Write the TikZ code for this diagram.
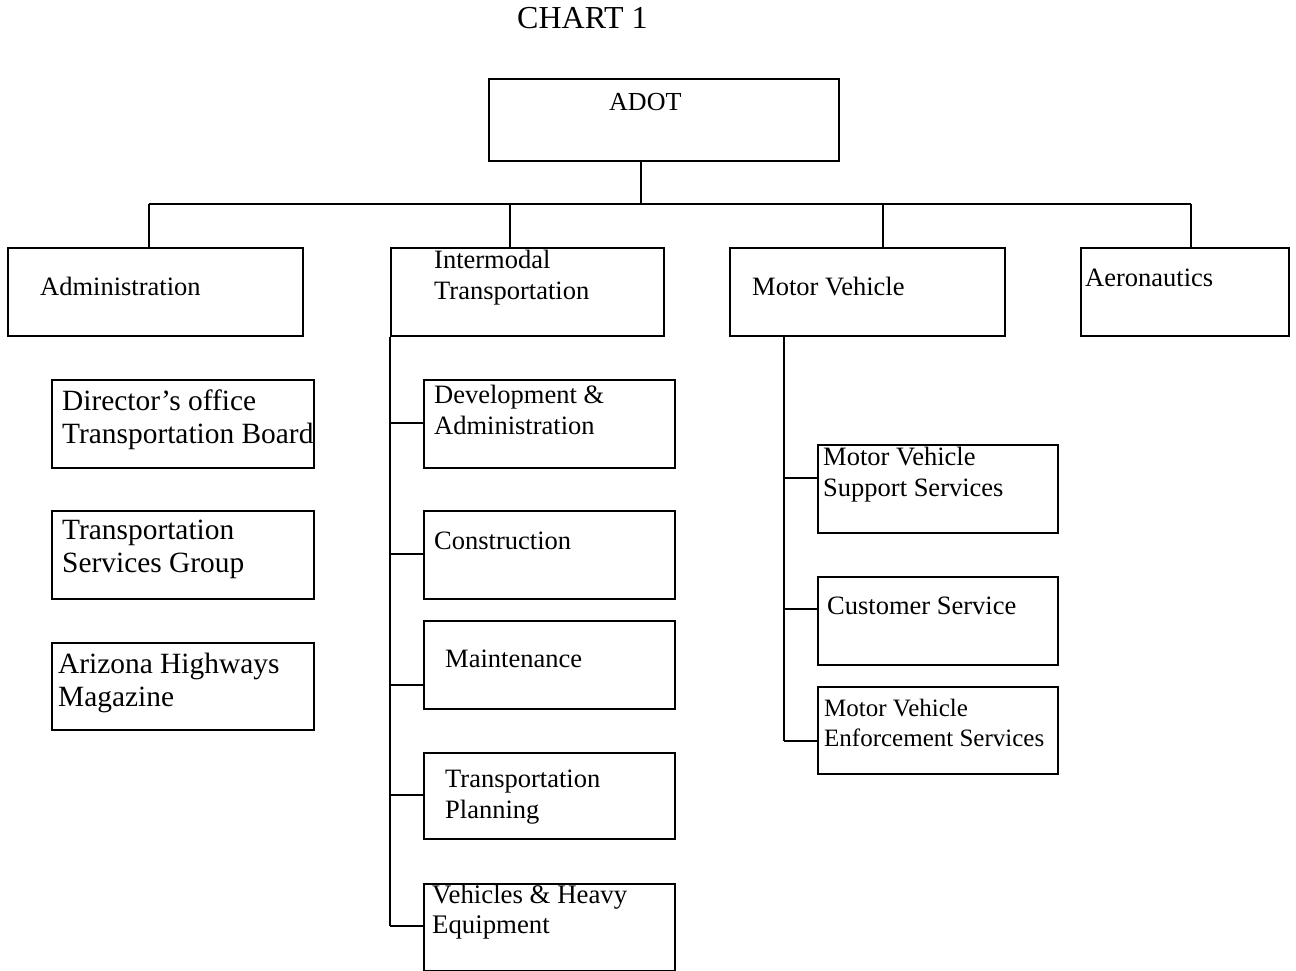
\documentclass[tikz,border=0pt]{standalone}
\usepackage{fontspec}
\setmainfont{Liberation Serif}
\newcommand{\twol}[1]{\begin{tabular}[t]{@{}l@{}}#1\end{tabular}}
\tikzset{
  orgbox/.style={draw, line width=1.6pt, inner sep=0pt, anchor=north west},
  conn/.style={line width=1.6pt},
  txt/.style={anchor=base west, inner sep=0pt, font=\fontsize{26.5}{31}\selectfont},
  bigtxt/.style={anchor=base west, inner sep=0pt, font=\fontsize{29.4}{33.5}\selectfont},
}
\begin{document}
\begin{tikzpicture}[x=1pt, y=-1pt]
\useasboundingbox (0,0) rectangle (1296,971);
% boxes
\node[orgbox, minimum width=350pt, minimum height=82pt] (adot) at (488,78) {};
\node[orgbox, minimum width=295pt, minimum height=88pt] (admin) at (7,247) {};
\node[orgbox, minimum width=273pt, minimum height=88pt] (inter) at (390,247) {};
\node[orgbox, minimum width=275pt, minimum height=88pt] (mv) at (729,247) {};
\node[orgbox, minimum width=208pt, minimum height=88pt] (aero) at (1080,247) {};
\node[orgbox, minimum width=262pt, minimum height=88pt] (dir) at (51,379) {};
\node[orgbox, minimum width=262pt, minimum height=88pt] (tsg) at (51,510) {};
\node[orgbox, minimum width=262pt, minimum height=87pt] (ahm) at (51,642) {};
\node[orgbox, minimum width=251pt, minimum height=88pt] (dev) at (423,379) {};
\node[orgbox, minimum width=251pt, minimum height=88pt] (cons) at (423,510) {};
\node[orgbox, minimum width=251pt, minimum height=88pt] (maint) at (423,620) {};
\node[orgbox, minimum width=251pt, minimum height=86pt] (tp) at (423,752) {};
\node[orgbox, minimum width=251pt, minimum height=87pt] (vhe) at (423,883) {};
\node[orgbox, minimum width=240pt, minimum height=88pt] (mvss) at (817,444) {};
\node[orgbox, minimum width=240pt, minimum height=88pt] (cs) at (817,576) {};
\node[orgbox, minimum width=240pt, minimum height=87pt] (mves) at (817,686) {};
% texts
\node[anchor=base west, inner sep=0pt, font=\fontsize{32}{36}\selectfont] (title) at (517,29) {CHART 1};
\node[txt, font=\fontsize{26}{31}\selectfont] (tadot) at (609,111) {ADOT};
\node[txt] (tadmin) at (40,295) {Administration};
\node[txt] (tinter) at (434,268) {\twol{Intermodal\\Transportation}};
\node[txt] (tmv) at (752,295) {Motor Vehicle};
\node[txt] (taero) at (1085,286) {Aeronautics};
\node[bigtxt] (tdir) at (62,410) {\twol{Director’s office\\Transportation Board}};
\node[bigtxt] (ttsg) at (62,539) {\twol{Transportation\\Services Group}};
\node[bigtxt] (tahm) at (58,673) {\twol{Arizona Highways\\Magazine}};
\node[txt] (tdev) at (434,403) {\twol{Development \&\\Administration}};
\node[txt] (tcons) at (434,549) {Construction};
\node[txt] (tmaint) at (445,667) {Maintenance};
\node[txt] (ttp) at (445,787) {\twol{Transportation\\Planning}};
\node[txt, font=\fontsize{26.8}{30}\selectfont] (tvhe) at (432,903) {\twol{Vehicles \& Heavy\\Equipment}};
\node[txt] (tmvss) at (823,465) {\twol{Motor Vehicle\\Support Services}};
\node[txt] (tcs) at (827,614) {Customer Service};
\node[txt, font=\fontsize{25}{30}\selectfont] (tmves) at (824,716) {\twol{Motor Vehicle\\Enforcement Services}};
% bus coordinates
\coordinate (bus0) at (641,204);
\coordinate (busA) at (149,204);
\coordinate (busI) at (510,204);
\coordinate (busM) at (883,204);
\coordinate (busR) at (1191,204);
\draw[conn] (adot.south -| bus0) -- (bus0);
\draw[conn] (busA) -- (busR);
\draw[conn] (busA) -- (busA |- admin.north);
\draw[conn] (busI) -- (busI |- inter.north);
\draw[conn] (busM) -- (busM |- mv.north);
\draw[conn] (busR) -- (busR |- aero.north);
% intermodal trunk
\coordinate (it1) at (390,423);
\coordinate (it2) at (390,554);
\coordinate (it3) at (390,685);
\coordinate (it4) at (390,795);
\coordinate (it5) at (390,926);
\draw[conn] (inter.south -| it1) -- (it5);
\draw[conn] (it1) -- (it1 -| dev.west);
\draw[conn] (it2) -- (it2 -| cons.west);
\draw[conn] (it3) -- (it3 -| maint.west);
\draw[conn] (it4) -- (it4 -| tp.west);
\draw[conn] (it5) -- (it5 -| vhe.west);
% motor vehicle trunk
\coordinate (mt1) at (784,478);
\coordinate (mt2) at (784,609);
\coordinate (mt3) at (784,741);
\draw[conn] (mv.south -| mt1) -- (mt3);
\draw[conn] (mt1) -- (mt1 -| mvss.west);
\draw[conn] (mt2) -- (mt2 -| cs.west);
\draw[conn] (mt3) -- (mt3 -| mves.west);
\end{tikzpicture}
\end{document}
